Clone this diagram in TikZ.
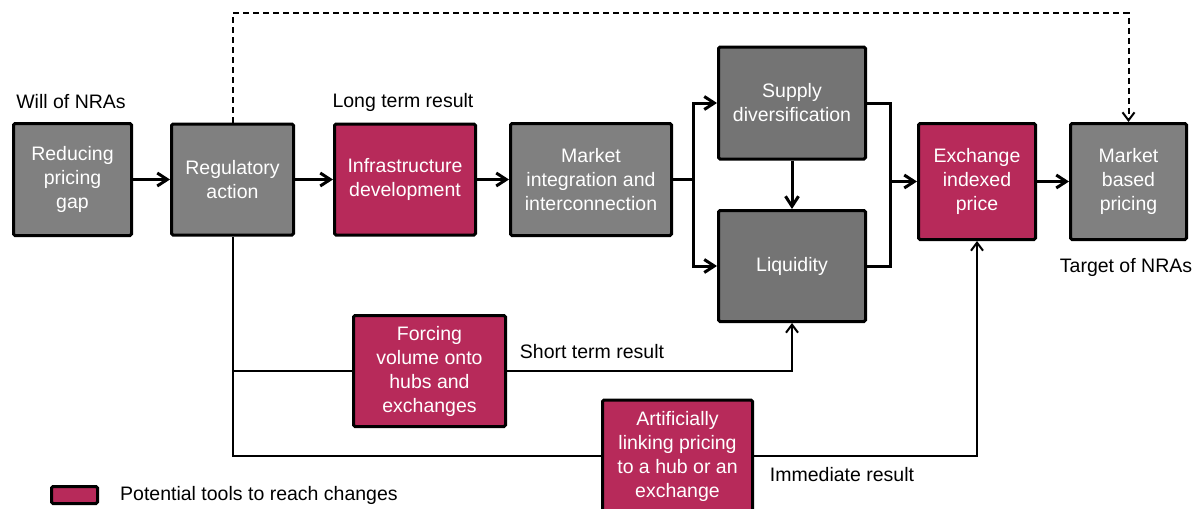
\documentclass[tikz,border=0pt]{standalone}
\usepackage{fontspec}
\setmainfont{Liberation Sans}
\usetikzlibrary{arrows.meta}
\definecolor{boxgray}{RGB}{128,128,128}
\definecolor{boxdark}{RGB}{116,116,116}
\definecolor{tool}{RGB}{183,42,90}
\tikzset{
  base/.style={draw=black, line width=3pt, rounded corners=1.5pt, text=white,
    align=center, inner sep=2pt, font=\fontsize{19.5}{24}\selectfont},
  gbox/.style={base, fill=boxgray},
  dbox/.style={base, fill=boxdark},
  tbox/.style={base, fill=tool},
  lbl/.style={font=\fontsize{19.5}{24}\selectfont, text=black, inner sep=0pt},
  mainln/.style={line width=3pt},
  mainarr/.style={line width=3pt, -{Straight Barb[length=10pt,width=13pt]}},
  subln/.style={line width=2pt},
  subarr/.style={line width=2pt, -{Straight Barb[length=8pt,width=12pt]}},
  dashln/.style={line width=2pt, dash pattern=on 6pt off 4pt,
    -{Straight Barb[length=8pt,width=12pt]}}
}
\begin{document}
\begin{tikzpicture}[x=1pt,y=-1pt]
\useasboundingbox (0,0) rectangle (1203,509);

% upper chain of boxes
\node[gbox, minimum width=118pt, minimum height=112pt] (rpg) at (72.5,179.5) {Reducing\\pricing\\gap};
\node[gbox, minimum width=122pt, minimum height=111pt] (reg) at (232.5,179.5) {Regulatory\\action};
\node[tbox, minimum width=141pt, minimum height=111pt] (inf) at (405,179.5) {Infrastructure\\development};
\node[gbox, minimum width=161pt, minimum height=112pt] (mkt) at (591,179.5) {Market\\integration and\\interconnection};
\node[dbox, minimum width=147pt, minimum height=112pt] (sup) at (792,103) {Supply\\diversification};
\node[dbox, minimum width=147pt, minimum height=111pt] (liq) at (792,266) {Liquidity};
\node[tbox, minimum width=117pt, minimum height=116pt] (exc) at (977,181.5) {Exchange\\indexed\\price};
\node[gbox, minimum width=116pt, minimum height=116pt] (mbp) at (1128.5,181.5) {Market\\based\\pricing};

% tools below
\node[tbox, minimum width=152pt, minimum height=111pt] (frc) at (429.5,371) {Forcing\\volume onto\\hubs and\\exchanges};
\node[tbox, minimum width=150pt, minimum height=112pt] (art) at (677.5,456) {Artificially\\linking pricing\\to a hub or an\\exchange};

% labels
\node[lbl] (lwill) at (71,102) {Will of NRAs};
\node[lbl] (llong) at (403,102) {Long term result};
\node[lbl] (ltarget) at (1126,267) {Target of NRAs};
\node[lbl] (lshort) at (592,352) {Short term result};
\node[lbl] (limm) at (842,475) {Immediate result};

% legend
\node[tbox, minimum width=46pt, minimum height=17pt, inner sep=0pt] (leg) at (74.5,495) {};
\node[lbl, anchor=west] (legtxt) at (120,495) {Potential tools to reach changes};

% junctions
\coordinate (j1) at (693,179.5);
\coordinate (j2) at (890,181.5);
\coordinate (dtop) at (1128.5,13);

% main flow
\draw[mainarr] (rpg) -- (reg);
\draw[mainarr] (reg) -- (inf);
\draw[mainarr] (inf) -- (mkt);
\draw[mainln] (mkt.east) -- (j1);
\draw[mainarr] (j1) |- (sup.west);
\draw[mainarr] (j1) |- (liq.west);
\draw[mainarr] (sup) -- (liq);
\draw[mainln] (sup.east) -| (j2) |- (liq.east);
\draw[mainarr] (j2) -- (exc.west);
\draw[mainarr] (exc) -- (mbp);

% dashed link to the target
\draw[dashln] (reg.north) |- (dtop) -- (mbp.north);

% regulatory tools
\draw[subln] (reg.south) |- (art.west);
\draw[subln] (reg.south |- frc.west) -- (frc.west);
\draw[subarr] (frc.east) -| (liq.south);
\draw[subarr] (art.east) -| (exc.south);
\end{tikzpicture}
\end{document}
